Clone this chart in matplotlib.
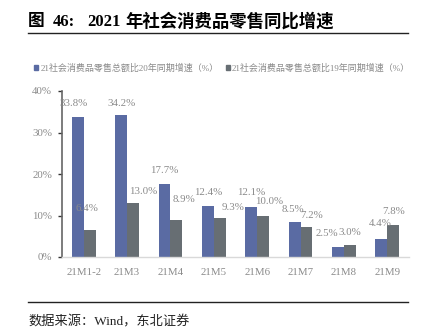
import matplotlib
matplotlib.use("Agg")
import matplotlib.pyplot as plt
from matplotlib.lines import Line2D
import numpy as np

categories = ["21M1-2", "21M3", "21M4", "21M5", "21M6", "21M7", "21M8", "21M9"]
growth_vs20 = [33.8, 34.2, 17.7, 12.4, 12.1, 8.5, 2.5, 4.4]
growth_vs19 = [6.4, 13.0, 8.9, 9.3, 10.0, 7.2, 3.0, 7.8]
series_names = ["21社会消费品零售总额比20年同期增速（%）", "21社会消费品零售总额比19年同期增速（%）"]
yticks = [0, 10, 20, 30, 40]

# label offsets in pixels (style only)
off20 = [(-4, 13), (0, 12), (0, 13), (0, 13), (0, 14), (-2, 12), (-11, 13), (-1, 15)]
off19 = [(-3, 22), (10, 12), (8, 21), (13, 11), (6, 14), (5, 12), (0, 12), (0, 13)]

W, H = 424, 336
fig = plt.figure(figsize=(W / 100, H / 100), dpi=100)
serif_cjk = ["Liberation Serif", "Noto Sans CJK SC"]

blue = "#5A6BA3"
gray = "#676E73"
txtgray = "#8A8A8A"

ax = fig.add_axes([62 / W, 1 - 257 / H, (409 - 62) / W, (257 - 91) / H])
x = np.arange(len(categories))
bw = 0.275
ax.bar(x - bw / 2, growth_vs20, bw, color=blue, edgecolor="none")
ax.bar(x + bw / 2, growth_vs19, bw, color=gray, edgecolor="none")
ax.set_xlim(-0.5, len(categories) - 0.5)
ax.set_ylim(0, 40)
ax.set_yticks(yticks)
ax.set_yticklabels([f"{v}%" for v in yticks], family="Liberation Serif", fontsize=7.8, color=txtgray)
ax.set_xticks(x)
ax.set_xticklabels(categories, family="Liberation Serif", fontsize=7.8, color=txtgray)
ax.tick_params(axis="x", length=0, pad=8)
ax.tick_params(axis="y", length=3, width=1, color="#333333", direction="out", pad=4)
for s in ["top", "right"]:
    ax.spines[s].set_visible(False)
ax.spines["left"].set_color("#666666")
ax.spines["left"].set_linewidth(1.2)
ax.spines["bottom"].set_color("#D9D9D9")
ax.spines["bottom"].set_linewidth(1.0)

for xi, v, o in zip(x, growth_vs20, off20):
    ax.annotate(f"{v:.1f}%", (xi - bw / 2, v), xytext=o, textcoords="offset pixels",
                ha="center", va="center", fontsize=7.8, family="Liberation Serif", color=txtgray)
for xi, v, o in zip(x, growth_vs19, off19):
    ax.annotate(f"{v:.1f}%", (xi + bw / 2, v), xytext=o, textcoords="offset pixels",
                ha="center", va="center", fontsize=7.8, family="Liberation Serif", color=txtgray)

# legend
handles = [plt.Rectangle((0, 0), 1, 1, color=blue), plt.Rectangle((0, 0), 1, 1, color=gray)]
leg = fig.legend(handles, series_names, loc="center", bbox_to_anchor=(222 / W, 1 - 68 / H),
                 ncol=2, frameon=False, prop={"family": serif_cjk, "size": 6.5},
                 handlelength=0.5, handleheight=0.5, handletextpad=0.2, columnspacing=0.8)
for t in leg.get_texts():
    t.set_color(txtgray)

# title
fig.text(28 / W, 1 - 22 / H, "图", fontsize=12, fontweight="bold", family=serif_cjk, va="center", ha="left")
fig.text(53 / W, 1 - 22 / H, "46:", fontsize=12, fontweight="bold", family=serif_cjk, va="center", ha="left")
fig.text(87 / W, 1 - 22 / H, "2021", fontsize=12, fontweight="bold", family=serif_cjk, va="center", ha="left")
fig.text(125 / W, 1 - 22 / H, "年社会消费品零售同比增速", fontsize=12.5, fontweight="bold",
         family=serif_cjk, va="center", ha="left")
fig.add_artist(Line2D([28 / W, 408 / W], [1 - 33 / H, 1 - 33 / H], color="#222222", lw=1.0))

# source
fig.add_artist(Line2D([28 / W, 408 / W], [1 - 302 / H, 1 - 302 / H], color="#222222", lw=1.0))
fig.text(28 / W, 1 - 322 / H, "数据来源：Wind，东北证券", fontsize=9.5, family=serif_cjk,
         va="center", ha="left", color="#222222")

fig.savefig("out.png", dpi=100)
